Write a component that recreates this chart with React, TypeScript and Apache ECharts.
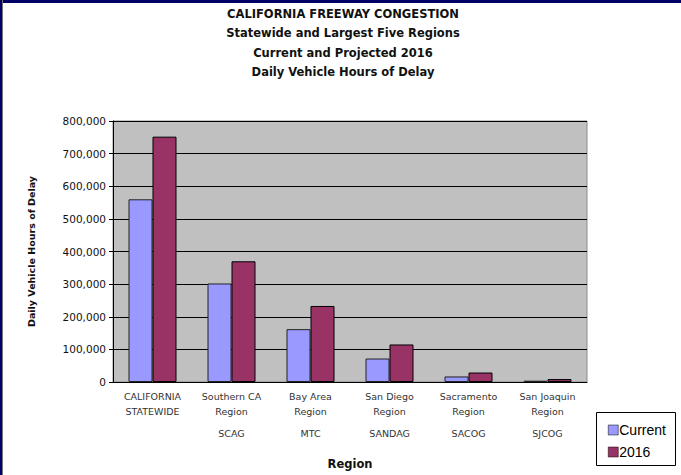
import React, { useEffect, useRef } from "react";
import * as echarts from "echarts";

const regionNames = [
  ["CALIFORNIA", "STATEWIDE"],
  ["Southern CA", "Region"],
  ["Bay Area", "Region"],
  ["San Diego", "Region"],
  ["Sacramento", "Region"],
  ["San Joaquin", "Region"],
];
const agencies = ["", "SCAG", "MTC", "SANDAG", "SACOG", "SJCOG"];
const categories = regionNames.map((r) => r.join(" "));
const currentValues = [560000, 302000, 162000, 72000, 17000, 4000];
const projectedValues = [752000, 370000, 233000, 115000, 29000, 9000];
const seriesNames = ["Current", "2016"];
const titleLines = [
  "CALIFORNIA FREEWAY CONGESTION",
  "Statewide and Largest Five Regions",
  "Current and Projected 2016",
  "Daily Vehicle Hours of Delay",
];

const FONT = "'Liberation Sans', Arial, sans-serif";
const WIDE = "'DejaVu Sans', sans-serif";

export default function App() {
  const ref = useRef<HTMLDivElement>(null);
  useEffect(() => {
    const chart = echarts.init(ref.current!, null, { renderer: "svg" });
    chart.setOption({
      animation: false,
      backgroundColor: "#ffffff",
      textStyle: { fontFamily: FONT },
      graphic: [
        { type: "rect", shape: { x: 0, y: 0, width: 681, height: 3 }, style: { fill: "#000066" } },
        { type: "rect", shape: { x: 0, y: 0, width: 2, height: 475 }, style: { fill: "#000066" } },
        { type: "rect", shape: { x: 2, y: 0, width: 1, height: 475 }, style: { fill: "#777777" } },
        ...titleLines.map((t, i) => ({
          type: "text",
          x: 343,
          y: 14 + i * 19.3,
          style: {
            text: t,
            fill: "#111",
            font: `bold 11.5px ${WIDE}`,
            textAlign: "center",
            textVerticalAlign: "middle",
          },
        })),
        {
          type: "rect",
          shape: { x: 596.5, y: 412.5, width: 79, height: 53 },
          style: { fill: "#ffffff", stroke: "#000", lineWidth: 1 },
        },
      ],
      legend: {
        data: seriesNames,
        orient: "vertical",
        left: 603,
        top: 418,
        itemWidth: 10,
        itemHeight: 10,
        itemGap: 8,
        icon: "rect",
        textStyle: { fontSize: 14, color: "#000", fontFamily: FONT, padding: [0, 0, 0, -4] },
        itemStyle: { borderColor: "#000", borderWidth: 0.5 },
      },
      grid: {
        left: 113,
        width: 474,
        top: 121,
        height: 261,
        containLabel: false,
        outerBoundsMode: "none",
        show: true,
        backgroundColor: "#c0c0c0",
        borderColor: "#8a8a8a",
        borderWidth: 1,
      },
      xAxis: {
        type: "category",
        data: categories,
        name: "Region",
        nameLocation: "middle",
        nameGap: 76,
        nameTextStyle: { fontSize: 11.5, fontWeight: "bold", color: "#111", fontFamily: WIDE },
        axisLine: { lineStyle: { color: "#000", width: 1 } },
        axisTick: { show: false },
        axisLabel: {
          margin: 7,
          verticalAlign: "top",
          interval: 0,
          formatter: (_v: string, i: number) => {
            const r = regionNames[i];
            const lines = [`{a|${r[0]}}`, `{a|${r[1]}}`];
            if (agencies[i]) lines.push("{s| }", `{a|${agencies[i]}}`);
            return lines.join("\n");
          },
          rich: {
            a: { fontSize: 9.5, lineHeight: 15, color: "#333", fontFamily: WIDE },
            s: { fontSize: 2, lineHeight: 6.5 },
          },
        },
      },
      yAxis: {
        type: "value",
        min: 0,
        max: 800000,
        interval: 100000,
        name: "Daily Vehicle Hours of Delay",
        nameLocation: "middle",
        nameGap: 77,
        nameTextStyle: { fontSize: 9.5, fontWeight: "bold", color: "#111", fontFamily: WIDE },
        axisLine: { show: true, lineStyle: { color: "#000", width: 1 } },
        axisTick: { show: true, length: 4, inside: false, lineStyle: { color: "#000" } },
        axisLabel: {
          fontSize: 10.5,
          color: "#111",
          margin: 7,
          fontFamily: WIDE,
          formatter: (v: number) => v.toLocaleString("en-US"),
        },
        splitLine: { lineStyle: { color: "#000", width: 1 } },
      },
      series: [
        {
          name: seriesNames[0],
          type: "bar",
          data: currentValues,
          barWidth: 24,
          barGap: "0%",
          itemStyle: { color: "#9999ff", borderColor: "#222", borderWidth: 1 },
        },
        {
          name: seriesNames[1],
          type: "bar",
          data: projectedValues,
          barWidth: 24,
          itemStyle: { color: "#993366", borderColor: "#000", borderWidth: 1 },
        },
      ],
    });
    return () => chart.dispose();
  }, []);
  return <div ref={ref} style={{ width: 681, height: 475, position: "absolute", left: 0, top: 0 }} />;
}
